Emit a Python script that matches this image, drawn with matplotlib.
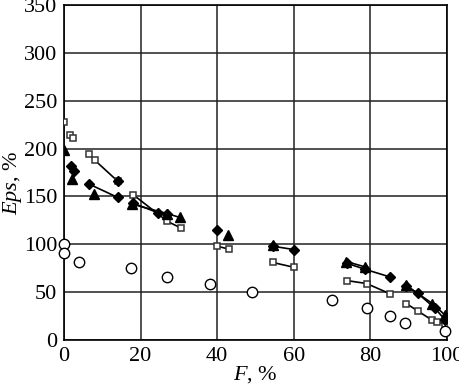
import matplotlib
matplotlib.use("Agg")
import matplotlib.pyplot as plt

plt.rcParams['font.family'] = ['Liberation Serif', 'DejaVu Serif']
plt.rcParams['mathtext.fontset'] = 'custom'
plt.rcParams['mathtext.it'] = 'Liberation Serif:italic'
plt.rcParams['mathtext.rm'] = 'Liberation Serif'

# Open circles (no line)
circle_x = [0, 0, 4, 17.5, 27, 38, 49, 70, 79, 85, 89, 99.5]
circle_y = [100, 91, 82, 75, 66, 58, 50, 41.5, 33, 25, 18, 9]

# Open squares, in connected groups
square_groups_x = [[0], [1.5, 2.4], [6.5, 8, 14], [18, 27, 30.5], [40, 43],
                   [54.5, 60], [74, 79, 85], [89.4, 92.3, 96, 97.3, 99.5]]
square_groups_y = [[228], [214, 211], [194, 188, 166], [152, 124, 117], [98, 95],
                   [81, 76], [62, 59, 48.5], [38, 30.5, 21, 18.5, 17]]

# Filled diamonds, in connected groups
diamond_groups_x = [[1.7, 2.6], [14], [6.5, 14], [18, 24.5, 27], [40],
                    [54.5, 60], [74, 78.5, 85], [89.4, 92.3, 96.9, 99.5]]
diamond_groups_y = [[182, 177], [166], [163, 149], [143, 133, 132], [115],
                    [98, 94.5], [80, 74, 66], [56, 49, 33, 21]]

# Filled triangles, in connected groups
triangle_groups_x = [[0], [2.2], [7.9], [17.7, 27, 30.3], [42.8],
                     [54.5], [73.7, 78.5], [89.4, 96.2, 99.5]]
triangle_groups_y = [[199], [168], [153], [142, 132, 128], [110],
                     [99], [82, 76.5], [57, 38, 26]]

fig = plt.figure(figsize=(4.6, 3.86), dpi=100)
ax = fig.add_axes([64/460, 46/386, 383/460, 335/386])

ax.set_xlim(0, 100)
ax.set_ylim(0, 350)
ax.set_xticks([0, 20, 40, 60, 80, 100])
ax.set_yticks(range(0, 351, 50))
ax.grid(True, color='#222222', linewidth=1.1)
ax.set_axisbelow(True)
for s in ax.spines.values():
    s.set_linewidth(1.2)
ax.tick_params(labelsize=16, length=0, pad=5)

for gx, gy in zip(square_groups_x, square_groups_y):
    ax.plot(gx, gy, '-', color='black', lw=1.2, marker='s', ms=4.5,
            mfc='white', mec='#333333', mew=1.1, zorder=3)
for gx, gy in zip(diamond_groups_x, diamond_groups_y):
    ax.plot(gx, gy, '-', color='black', lw=1.2, marker='D', ms=5.5,
            mfc='black', mec='black', zorder=4)
for gx, gy in zip(triangle_groups_x, triangle_groups_y):
    ax.plot(gx, gy, '-', color='black', lw=1.2, marker='^', ms=7,
            mfc='black', mec='black', zorder=4)
ax.plot(circle_x, circle_y, 'o', ms=7.5, mfc='white', mec='black', mew=1.0,
        zorder=5, clip_on=False)

ax.set_xlabel(r'$\mathit{F}$, %', fontsize=16, labelpad=-1)
ax.set_ylabel(r'$\mathit{Eps}$, %', fontsize=16)
ax.yaxis.set_label_coords(-0.105, 0.47)

fig.savefig('out.png', dpi=100)
